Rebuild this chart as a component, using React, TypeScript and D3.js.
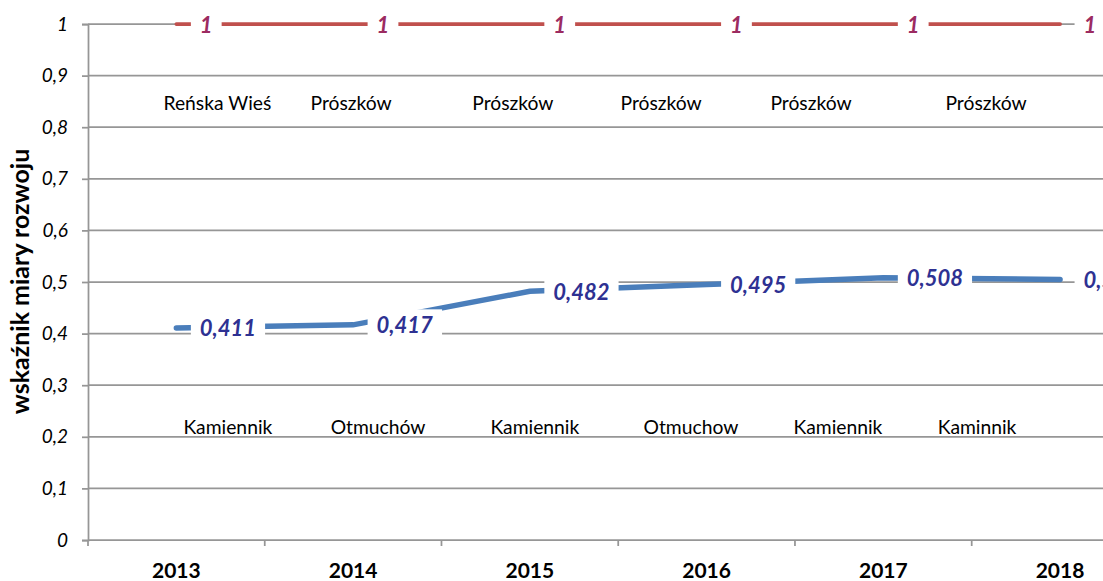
import React, { useEffect, useRef } from 'react';
import * as d3 from 'd3';

const years = ['2013', '2014', '2015', '2016', '2017', '2018'];
const maxValues = [1, 1, 1, 1, 1, 1];
const meanValues = [0.411, 0.417, 0.482, 0.495, 0.508, 0.505];
const maxNames = ['Reńska Wieś', 'Prószków', 'Prószków', 'Prószków', 'Prószków', 'Prószków'];
const minNames = ['Kamiennik', 'Otmuchów', 'Kamiennik', 'Otmuchow', 'Kamiennik', 'Kaminnik'];
const yTicks = [0, 0.1, 0.2, 0.3, 0.4, 0.5, 0.6, 0.7, 0.8, 0.9, 1];
const yTitle = 'wskaźnik miary rozwoju';

// layout: annotation offsets from category centre (px)
const maxNameOffsets = [41, -2, -17, -45.5, -72.3, -74];
const minNameOffsets = [51.5, 25, 5, -15.6, -45.4, -83];

const W = 1103;
const H = 581;
const FONT = 'Lato, "Open Sans", sans-serif';

export default function App() {
  const ref = useRef<SVGSVGElement | null>(null);

  useEffect(() => {
    document.body.style.margin = '0';
    const svg = d3.select(ref.current);
    svg.selectAll('*').remove();

    const left = 88;
    const band = 176.74;
    const x = d3.scaleBand<string>().domain(years).range([left, left + band * years.length]);
    const cx = (yr: string) => (x(yr) as number) + x.bandwidth() / 2;
    const y = d3.scaleLinear().domain([0, 1]).range([540, 24]);
    const fmt = d3.formatLocale({ decimal: ',', thousands: ' ', grouping: [3], currency: ['', ''] }).format('.3~f');

    const grid = '#969696';
    const gw = 1.75;

    // gridlines
    svg.append('g').selectAll('line').data(yTicks.filter((t) => t > 0)).join('line')
      .attr('x1', left).attr('x2', W).attr('y1', (d) => y(d)).attr('y2', (d) => y(d))
      .attr('stroke', grid).attr('stroke-width', gw);

    // y axis
    const yAxis = svg.append('g').attr('transform', `translate(${left},0)`)
      .call(d3.axisLeft(y).tickValues(yTicks).tickSize(6).tickPadding(14).tickFormat((d) => fmt(d as number)));
    yAxis.select('.domain').attr('stroke', grid).attr('stroke-width', gw);
    yAxis.selectAll('.tick line').attr('stroke', grid).attr('stroke-width', gw);
    yAxis.selectAll('.tick text').attr('font-family', FONT).attr('font-size', 19)
      .attr('font-style', 'italic').attr('fill', '#000');

    // x axis
    svg.append('line').attr('x1', left).attr('x2', W).attr('y1', y(0)).attr('y2', y(0))
      .attr('stroke', grid).attr('stroke-width', gw);
    const bounds = d3.range(years.length + 1).map((i) => left + i * x.step());
    svg.append('g').selectAll('line').data(bounds).join('line')
      .attr('x1', (d) => d).attr('x2', (d) => d).attr('y1', y(0)).attr('y2', y(0) + 6)
      .attr('stroke', grid).attr('stroke-width', gw);
    svg.append('g').selectAll('text').data(years).join('text')
      .attr('x', (d) => cx(d)).attr('y', 578).attr('text-anchor', 'middle')
      .attr('font-family', FONT).attr('font-size', 21).attr('font-weight', 'bold')
      .attr('fill', '#000').text((d) => d);

    // y title
    svg.append('text').attr('transform', `translate(29,${281.5}) rotate(-90)`)
      .attr('text-anchor', 'middle').attr('font-family', FONT).attr('font-size', 25)
      .attr('font-weight', 'bold').attr('fill', '#000').text(yTitle);

    // lines
    const line = d3.line<number>().x((_, i) => cx(years[i])).y((d) => y(d));
    svg.append('path').datum(maxValues).attr('d', line).attr('fill', 'none')
      .attr('stroke', '#C0504D').attr('stroke-width', 3.75).attr('stroke-linecap', 'round');
    svg.append('path').datum(meanValues).attr('d', line).attr('fill', 'none')
      .attr('stroke', '#4A7EBB').attr('stroke-width', 5.5).attr('stroke-linecap', 'round');

    // data labels with white boxes
    const addLabels = (vals: number[], color: string) => {
      vals.forEach((v, i) => {
        const px = cx(years[i]);
        const py = y(v);
        const g = svg.append('g');
        const rect = g.append('rect').attr('fill', '#fff');
        const t = g.append('text').attr('x', px + 23.5).attr('y', py + 8.5)
          .attr('font-family', FONT).attr('font-size', 22).attr('font-weight', 'bold')
          .attr('font-style', 'italic').attr('fill', color).text(fmt(v));
        const bb = (t.node() as SVGTextElement).getBBox();
        rect.attr('x', px + 14.5).attr('y', bb.y - 2).attr('width', bb.x + bb.width + 9 - (px + 14.5))
          .attr('height', bb.height + 4);
      });
    };
    addLabels(maxValues, '#9C2B61');
    addLabels(meanValues, '#2E3192');

    // annotations
    svg.append('g').selectAll('text').data(maxNames).join('text')
      .attr('x', (_, i) => cx(years[i]) + maxNameOffsets[i]).attr('y', 110)
      .attr('text-anchor', 'middle').attr('font-family', FONT).attr('font-size', 19.3)
      .attr('fill', '#000').text((d) => d);
    svg.append('g').selectAll('text').data(minNames).join('text')
      .attr('x', (_, i) => cx(years[i]) + minNameOffsets[i]).attr('y', 434)
      .attr('text-anchor', 'middle').attr('font-family', FONT).attr('font-size', 19.3)
      .attr('fill', '#000').text((d) => d);
  }, []);

  return (
    <div style={{ position: 'absolute', left: 0, top: 0 }}>
      <svg ref={ref} width={W} height={H} style={{ display: 'block', background: '#fff' }} />
    </div>
  );
}
